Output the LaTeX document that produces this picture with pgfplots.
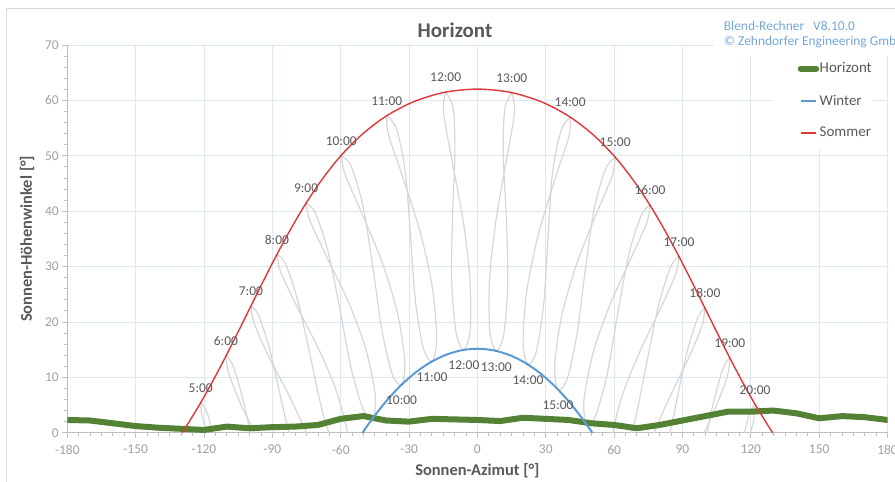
\documentclass[border=0pt]{standalone}
\usepackage{fontspec}
\setmainfont{Carlito}
\usepackage{pgfplots}
\pgfplotsset{compat=1.18}

\definecolor{horgreen}{RGB}{84,130,53}
\definecolor{winblue}{RGB}{91,155,213}
\definecolor{somred}{RGB}{225,55,55}
\definecolor{anagray}{RGB}{214,214,214}
\definecolor{gridblue}{RGB}{221,231,243}
\definecolor{axgray}{RGB}{191,191,191}
\definecolor{tickgray}{RGB}{160,160,160}
\definecolor{labgray}{RGB}{89,89,89}
\definecolor{blendblue}{RGB}{116,167,220}
\definecolor{framegray}{RGB}{217,217,217}

\begin{document}
\begin{tikzpicture}
\useasboundingbox (0bp,0bp) rectangle (895bp,482bp);
\draw[framegray, line width=0.8bp] (6bp,474bp) rectangle (905bp,-10bp);
\begin{axis}[
  at={(67.3bp,49.3bp)}, anchor=south west,
  scale only axis, width=820.2bp, height=387.7bp,
  xmin=-180, xmax=180, ymin=0, ymax=70,
  xtick distance=30, ytick distance=10,
  minor x tick num=5, minor y tick num=4,
  axis x line*=bottom, axis y line*=left,
  axis line style={axgray, line width=0.8bp, -},
  grid=major, major grid style={gridblue, line width=0.8bp},
  tick style={axgray, line width=0.8bp},
  tick align=outside, major tick length=5bp, minor tick length=3bp,
  /pgf/number format/assume math mode=true,
  ticklabel style={font=\fontsize{13.5}{16}\selectfont, text=tickgray},
  xticklabel style={yshift=-4bp},
  xlabel={Sonnen-Azimut [°]}, ylabel={Sonnen-Höhenwinkel [°]},
  every axis x label/.style={at={(axis description cs:0.5,-0.098)}, anchor=center,
    font=\bfseries\fontsize{16.5}{19}\selectfont, text=labgray},
  every axis y label/.style={at={(axis description cs:-0.049,0.5)}, anchor=center, rotate=90,
    font=\bfseries\fontsize{16.5}{19}\selectfont, text=labgray},
  legend style={at={(0.8592,0.982)}, anchor=north west, draw=none, fill=white,
    inner xsep=0bp, inner ysep=10bp, row sep=19.5bp,
    font=\fontsize{15}{18}\selectfont, text=labgray,
    nodes={inner sep=0.5bp}, cells={anchor=west}},
  legend image code/.code={\path (0bp,0bp); \draw[#1] (25.5bp,0bp) -- (41bp,0bp);},
]
% Analemmen (Stundenlinien Juni -> Dezember -> Juni)
\pgfplotsset{ana/.style={forget plot, anagray, line width=1.2bp, smooth, mark=none}}
\addplot[ana] coordinates {(-121.44,5.43) (-120.42,2.18) (-115.10,-4.12)};
\addplot[ana] coordinates {(-114.21,-3.48) (-118.54,3.51) (-121.44,5.43)};
\addplot[ana] coordinates {(-110.37,13.84) (-109.10,10.67) (-103.37,4.70) (-93.87,-3.09)};
\addplot[ana] coordinates {(-96.77,-5.37) (-102.51,5.39) (-107.28,12.12) (-110.37,13.84)};
\addplot[ana] coordinates {(-99.42,22.87) (-97.96,19.75) (-91.83,13.96) (-82.11,6.25) (-73.90,-1.06)};
\addplot[ana] coordinates {(-79.52,-5.46) (-85.01,3.97) (-90.95,14.67) (-96.10,21.27) (-99.42,22.87)};
\addplot[ana] coordinates {(-87.98,32.19) (-86.37,29.09) (-79.85,23.28) (-69.93,15.32) (-61.96,7.60) (-57.02,-0.18) (-57.41,-4.61) (-61.87,-3.55) (-67.81,3.50) (-72.99,13.14) (-78.91,23.97) (-84.37,30.62) (-87.98,32.19)};
\addplot[ana] coordinates {(-75.21,41.43) (-73.52,38.29) (-66.69,32.23) (-56.70,23.67) (-49.14,15.31) (-44.92,7.08) (-45.73,2.69) (-50.09,4.20) (-55.47,11.73) (-60.08,21.71) (-65.62,32.88) (-71.23,39.74) (-75.21,41.43)};
\addplot[ana] coordinates {(-59.77,50.06) (-58.26,46.82) (-51.40,40.25) (-41.81,30.76) (-35.07,21.58) (-31.88,12.90) (-33.27,8.63) (-37.46,10.67) (-42.03,18.76) (-45.64,29.17) (-50.14,40.79) (-55.43,48.11) (-59.77,50.06)};
\addplot[ana] coordinates {(-39.80,57.21) (-39.06,53.85) (-33.10,46.54) (-24.92,35.91) (-19.66,25.89) (-17.87,16.83) (-19.93,12.83) (-23.85,15.44) (-27.27,24.08) (-29.24,34.86) (-31.59,46.93) (-35.43,54.79) (-39.80,57.21)};
\addplot[ana] coordinates {(-13.93,61.47) (-14.92,58.12) (-11.61,50.12) (-6.32,38.43) (-3.27,27.75) (-3.19,18.55) (-5.93,14.92) (-9.39,18.11) (-11.27,27.18) (-10.99,38.08) (-9.90,50.26) (-10.57,58.45) (-13.93,61.47)};
\addplot[ana] coordinates {(15.05,61.38) (12.00,58.37) (11.37,50.14) (12.78,37.90) (13.30,26.93) (11.63,17.86) (8.30,14.72) (5.45,18.44) (5.33,27.66) (8.13,38.32) (13.07,49.98) (16.31,57.99) (15.05,61.38)};
\addplot[ana] coordinates {(40.71,56.97) (36.62,54.49) (32.88,46.61) (30.88,34.42) (29.16,23.53) (25.98,14.84) (22.20,12.27) (20.06,16.37) (21.63,25.48) (26.59,35.52) (34.38,46.21) (40.21,53.54) (40.71,56.97)};
\addplot[ana] coordinates {(60.46,49.74) (56.36,47.69) (51.23,40.33) (47.09,28.53) (43.77,17.98) (39.45,9.78) (35.41,7.76) (33.93,12.12) (36.89,20.89) (43.30,30.16) (52.48,39.77) (59.17,46.40) (60.46,49.74)};
\addplot[ana] coordinates {(75.76,41.07) (71.98,39.27) (66.54,32.32) (61.36,20.94) (57.04,10.77) (51.93,3.09) (47.73,1.56) (46.82,6.06) (50.78,14.42) (58.00,22.92) (67.59,31.67) (74.26,37.81) (75.76,41.07)};
\addplot[ana] coordinates {(88.46,31.81) (85.02,30.12) (79.72,23.38) (74.16,12.29) (69.27,2.43) (63.60,-4.82) (59.28,-5.94) (58.80,-1.39) (63.46,6.57) (71.12,14.48) (80.65,22.68) (87.00,28.59) (88.46,31.81)};
\addplot[ana] coordinates {(99.86,22.50) (96.70,20.77) (91.70,14.06) (86.13,3.09) (80.94,-6.60)};
\addplot[ana] coordinates {(75.34,-2.18) (83.23,5.37) (92.58,13.36) (98.55,19.26) (99.86,22.50)};
\addplot[ana] coordinates {(110.81,13.49) (107.87,11.65) (103.25,4.80) (97.89,-6.25)};
\addplot[ana] coordinates {(94.99,-3.97) (104.12,4.12) (109.70,10.19) (110.81,13.49)};
\addplot[ana] coordinates {(121.89,5.12) (119.14,3.08) (114.98,-4.03)};
\addplot[ana] coordinates {(115.89,-4.66) (121.03,1.75) (121.89,5.12)};

% Horizont
\addplot[horgreen, line width=6bp, line cap=round, line join=round, mark=none] coordinates {
(-180,2.3) (-170,2.2) (-160,1.7) (-150,1.2) (-140,0.9) (-130,0.7) (-120,0.5)
(-110,1.1) (-100,0.8) (-90,1.0) (-80,1.1) (-70,1.4) (-60,2.5) (-50,3.0)
(-40,2.2) (-30,2.0) (-20,2.5) (-10,2.4) (0,2.3) (10,2.1) (20,2.7) (30,2.5)
(40,2.3) (50,1.7) (60,1.4) (70,0.8) (80,1.4) (90,2.2) (100,3.0) (110,3.8)
(120,3.8) (130,4.0) (140,3.5) (150,2.6) (160,3.0) (170,2.8) (180,2.3)};
\addlegendentry{Horizont\hspace{16bp}}

% Winter (21.12.)
\addplot[winblue, line width=2bp, smooth, mark=none] coordinates {
(-52.63,-1.42) (-50.40,0) (-46.75,2.15) (-40.66,5.38) (-34.36,8.23) (-27.82,10.65)
(-21.08,12.59) (-14.17,14.00) (-7.12,14.87) (0,15.16) (7.12,14.87) (14.17,14.00)
(21.08,12.59) (27.82,10.65) (34.36,8.23) (40.66,5.38) (46.75,2.15) (50.40,0) (52.63,-1.42)};
\addlegendentry{Winter}

% Sommer (21.06.)
\addplot[somred, line width=1.4bp, smooth, mark=none] coordinates {
(-129.60,0) (-127.37,1.42) (-121.66,5.27) (-116.08,9.37) (-110.59,13.66) (-105.14,18.11)
(-99.64,22.68) (-94.04,27.32) (-88.23,32.00) (-82.09,36.66) (-75.50,41.25) (-68.25,45.69)
(-60.14,49.91) (-50.90,53.76) (-40.29,57.10) (-28.12,59.74) (-14.51,61.45) (0,62.04)
(14.51,61.45) (28.12,59.74) (40.29,57.10) (50.90,53.76) (60.14,49.91) (68.25,45.69)
(75.50,41.25) (82.09,36.66) (88.23,32.00) (94.04,27.32) (99.64,22.68) (105.14,18.11)
(110.59,13.66) (116.08,9.37) (121.66,5.27) (127.37,1.42) (129.60,0)};
\addlegendentry{Sommer}

% Uhrzeiten Sommer
\addplot[forget plot, only marks, mark=*, mark size=0.01pt, mark options={draw=none, fill=none},
  nodes near coords, point meta=explicit symbolic,
  every node near coord/.append style={font=\fontsize{13.5}{16}\selectfont, text=labgray,
    anchor=south, inner sep=0pt, yshift=10bp}]
  table[meta=lab] {
x y lab
-121.44 5.43 5:00
-110.37 13.84 6:00
-99.42 22.87 7:00
-87.98 32.19 8:00
-75.21 41.43 9:00
-59.77 50.06 10:00
-39.80 57.21 11:00
-13.93 61.47 12:00
15.05 61.38 13:00
40.71 56.97 14:00
60.46 49.74 15:00
75.76 41.07 16:00
88.46 31.81 17:00
99.86 22.50 18:00
110.81 13.49 19:00
121.89 5.12 20:00
};
% Uhrzeiten Winter
\addplot[forget plot, only marks, mark=*, mark size=0.01pt, mark options={draw=none, fill=none},
  nodes near coords, point meta=explicit symbolic, nodes near coords align=below,
  every node near coord/.append style={font=\fontsize{13.5}{16}\selectfont, text=labgray,
    anchor=north, inner sep=0pt, yshift=-11bp}]
  table[meta=lab] {
x y lab
-33.27 8.63 10:00
-19.93 12.83 11:00
-5.93 14.92 12:00
8.30 14.72 13:00
22.20 12.27 14:00
35.41 7.76 15:00
};
\end{axis}
\node[font=\bfseries\fontsize{21}{25}\selectfont, text=labgray] at (455bp,452bp) {Horizont};
\node[anchor=north west, fill=white, inner xsep=3bp, inner ysep=8bp, minimum width=200bp,
  text=blendblue, font=\fontsize{13.5}{17}\selectfont, align=left]
  at (714bp,469bp) {Blend-Rechner\hspace{9bp}V8.10.0\\[-1.5bp] © Zehndorfer Engineering GmbH};
\end{tikzpicture}
\end{document}
